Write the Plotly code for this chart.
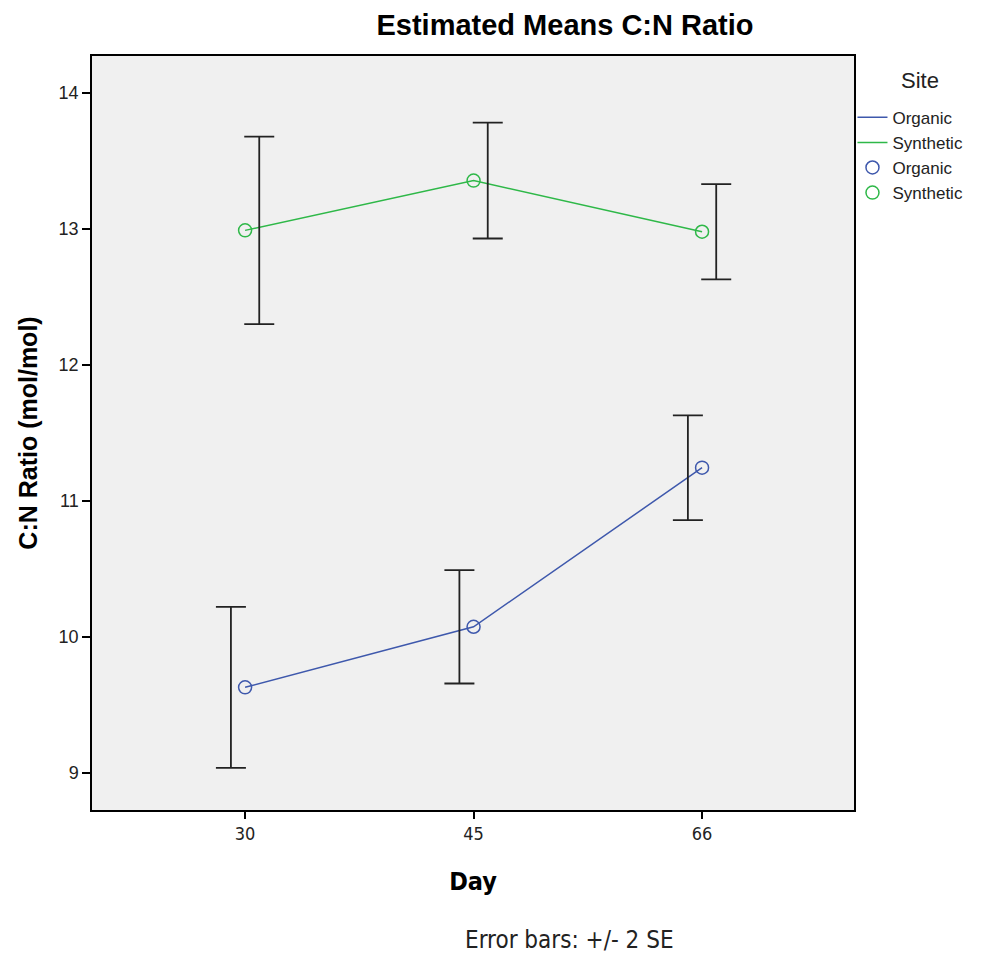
import plotly.graph_objects as go

# Estimated marginal means of C:N ratio by day and site, with +/- 2 SE
days = ["30", "45", "66"]
organic_mean = [9.63, 10.075, 11.245]
organic_2se = [0.592, 0.417, 0.385]
synthetic_mean = [12.99, 13.356, 12.98]
synthetic_2se = [0.689, 0.426, 0.350]

BLUE = "#3E58AC"
GREEN = "#2EB848"
pos = list(range(len(days)))
dodge = 0.062  # error bars are dodged left/right of the category centre

fig = go.Figure()

# Line legend entries + connecting lines
fig.add_trace(go.Scatter(x=pos, y=organic_mean, mode="lines", name="Organic",
                         line=dict(color=BLUE, width=1.5), hoverinfo="skip"))
fig.add_trace(go.Scatter(x=pos, y=synthetic_mean, mode="lines", name="Synthetic",
                         line=dict(color=GREEN, width=1.5), hoverinfo="skip"))

# Error bars (dodged)
for means, errs, off in [(organic_mean, organic_2se, -dodge), (synthetic_mean, synthetic_2se, dodge)]:
    fig.add_trace(go.Scatter(
        x=[p + off for p in pos], y=means, mode="markers",
        marker=dict(size=1, color="rgba(0,0,0,0)"),
        error_y=dict(type="data", array=errs, visible=True, color="#222222",
                     thickness=1.8, width=15),
        showlegend=False, hoverinfo="skip"))

# Circle markers
fig.add_trace(go.Scatter(x=pos, y=organic_mean, mode="markers", name="Organic",
                         marker=dict(symbol="circle-open", size=13, color=BLUE,
                                     line=dict(width=1.5, color=BLUE))))
fig.add_trace(go.Scatter(x=pos, y=synthetic_mean, mode="markers", name="Synthetic",
                         marker=dict(symbol="circle-open", size=13, color=GREEN,
                                     line=dict(width=1.5, color=GREEN))))

narrow = "DejaVu Sans Condensed, Liberation Sans Narrow, Arial Narrow, Liberation Sans, sans-serif"
arial = "Liberation Sans, Arial, sans-serif"

fig.update_layout(
    width=985, height=953,
    paper_bgcolor="white", plot_bgcolor="#F0F0F0",
    margin=dict(l=92, r=131, t=56, b=143),
    title=dict(text="<b>Estimated Means C:N Ratio</b>", x=0.5736, xref="container",
               xanchor="center", y=0.974, yanchor="middle",
               font=dict(family=arial, size=29, color="black")),
    showlegend=True,
    legend=dict(x=0.998, y=0.942, xanchor="left", yanchor="top",
                bgcolor="rgba(0,0,0,0)", itemwidth=30, tracegroupgap=0,
                font=dict(family=arial, size=17, color="#222")),
    xaxis=dict(range=[-0.67, 2.665], tickmode="array", tickvals=pos, ticktext=days,
               showgrid=False, zeroline=False,
               ticks="outside", ticklen=7, tickwidth=1.5, tickcolor="black",
               showline=True, linecolor="black", linewidth=1.5, mirror=True,
               tickfont=dict(family=narrow, size=18, color="#222"),
               title=dict(text="<b>Day</b>", standoff=29,
                          font=dict(family=narrow, size=25, color="black"))),
    yaxis=dict(range=[8.728, 14.272], tickmode="array", tickvals=[9, 10, 11, 12, 13, 14],
               showgrid=False, zeroline=False,
               ticks="outside", ticklen=8, tickwidth=1.5, tickcolor="black",
               showline=True, linecolor="black", linewidth=1.5, mirror=True,
               tickfont=dict(family=arial, size=18, color="#222"),
               title=dict(text="<b>C:N Ratio (mol/mol)</b>", standoff=14,
                          font=dict(family=arial, size=25, color="black"))),
    annotations=[
        dict(text="Site", xref="paper", yref="paper",
             x=(920 - 92) / 762, y=(810 - 80) / 754, xanchor="center", yanchor="middle",
             showarrow=False, font=dict(family=arial, size=22, color="#222")),
        dict(text="Error bars: +/- 2 SE", xref="paper", yref="paper",
             x=0.627, y=-0.172, xanchor="center", yanchor="middle",
             showarrow=False, font=dict(family=narrow, size=24, color="#222")),
    ],
)

fig.write_html("out.html")
